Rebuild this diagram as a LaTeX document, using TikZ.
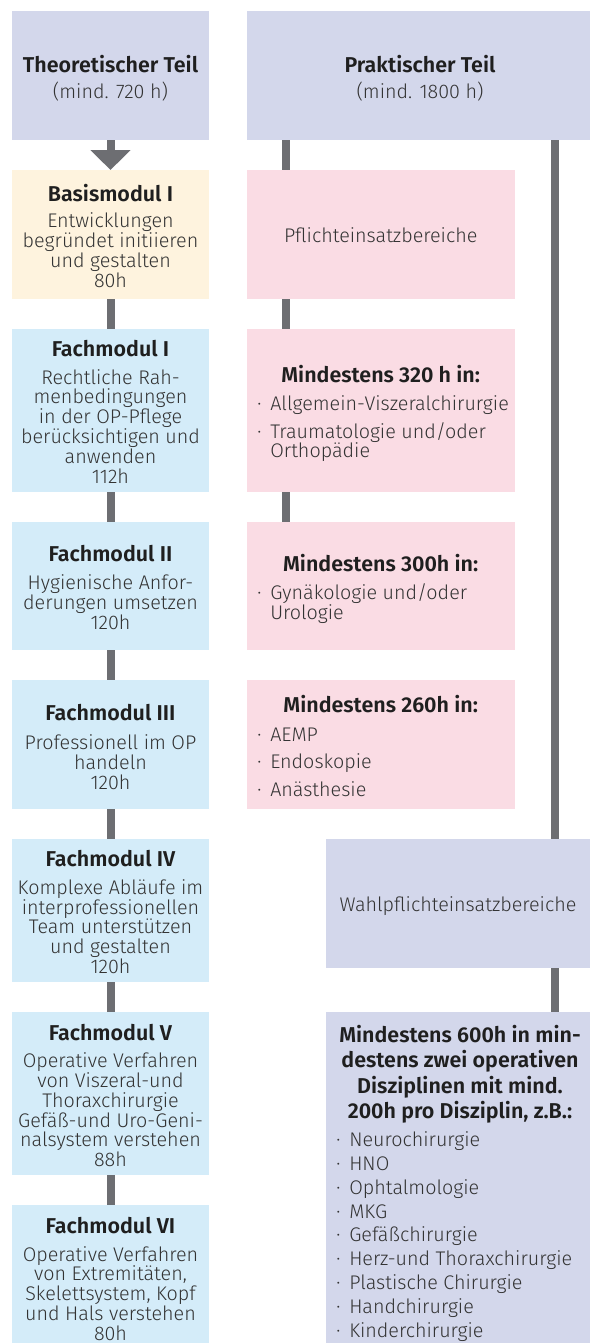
\documentclass[tikz,border=0pt]{standalone}
\usepackage{fontspec}
\IfFontExistsTF{Fira Sans Light}{\newfontfamily\bodyfam{Fira Sans Light}}{\newfontfamily\bodyfam{Fira Sans}}
\IfFontExistsTF{Fira Sans SemiBold}{\newfontfamily\headfam{Fira Sans SemiBold}}{\newfontfamily\headfamX{Fira Sans}\newcommand\headfam{\headfamX\bfseries}}
\usetikzlibrary{fit,arrows.meta}
\definecolor{hdrc}{HTML}{D3D7EB}
\definecolor{basisc}{HTML}{FEF3DE}
\definecolor{fachc}{HTML}{D4ECF9}
\definecolor{pflc}{HTML}{FADCE4}
\definecolor{lnc}{HTML}{6D6E72}
\definecolor{txtc}{HTML}{333333}
\definecolor{htxtc}{HTML}{1F1F1F}
\newcommand\hfnt{\headfam\fontsize{16.1}{18}\selectfont}
\newcommand\bfnt{\bodyfam\fontsize{14.8}{15}\selectfont}
\newdimen\PX \PX=0.75pt
\newcommand\bul{\makebox[13\PX][l]{·}}
\newcommand\ind{\hspace*{13\PX}}
\newcommand\TLines[6]{%
  \foreach \lntxt [count=\lnidx from 0] in {#6} {\node[#5] (#1-\lnidx) at (#2,{#3+#4*\lnidx}) {\lntxt};}}
\tikzset{
  box/.style={inner sep=0pt, outer sep=0pt, draw=none},
  hd/.style={anchor=base, inner sep=0pt, font=\hfnt, text=htxtc},
  bd/.style={anchor=base, inner sep=0pt, font=\bfnt, text=txtc},
  li/.style={anchor=base west, inner sep=0pt, font=\bfnt, text=txtc},
  conn/.style={draw=lnc, line width=6pt},
}
\begin{document}
\begin{tikzpicture}[x=0.75pt, y=-0.75pt]
\useasboundingbox (0,0) rectangle (590,1343);
% boxes
\node[box, fill=hdrc, fit={(12,11)(209,140)}] (theo) {};
\node[box, fill=hdrc, fit={(246.5,11)(590,140)}] (prak) {};
\node[box, fill=basisc, fit={(12,170)(209,299)}] (bm) {};
\node[box, fill=pflc, fit={(246.5,170)(515,299)}] (pf) {};
\node[box, fill=fachc, fit={(12,329)(209,492)}] (fm1) {};
\node[box, fill=pflc, fit={(246.5,329)(515,492)}] (p320) {};
\node[box, fill=fachc, fit={(12,522)(209,650)}] (fm2) {};
\node[box, fill=pflc, fit={(246.5,522)(515,650)}] (p300) {};
\node[box, fill=fachc, fit={(12,680)(209,809)}] (fm3) {};
\node[box, fill=pflc, fit={(246.5,680)(515,809)}] (p260) {};
\node[box, fill=fachc, fit={(12,839)(209,982)}] (fm4) {};
\node[box, fill=hdrc, fit={(326,839)(590,968)}] (wahl) {};
\node[box, fill=fachc, fit={(12,1012)(209,1175)}] (fm5) {};
\node[box, fill=hdrc, fit={(326,1012)(590,1343)}] (p600) {};
\node[box, fill=fachc, fit={(12,1205)(209,1343)}] (fm6) {};
% connectors
\coordinate (xin) at (286,0);
\coordinate (xout) at (555,0);
\draw[conn, -{Triangle[width=29.25pt,length=15pt]}] (theo.south) -- (bm.north);
\draw[conn] (bm.south) -- (fm1.north);
\draw[conn] (fm1.south) -- (fm2.north);
\draw[conn] (fm2.south) -- (fm3.north);
\draw[conn] (fm3.south) -- (fm4.north);
\draw[conn] (fm4.south) -- (fm5.north);
\draw[conn] (fm5.south) -- (fm6.north);
\draw[conn] (prak.south -| xin) -- (pf.north -| xin);
\draw[conn] (pf.south -| xin) -- (p320.north -| xin);
\draw[conn] (p320.south -| xin) -- (p300.north -| xin);
\draw[conn] (prak.south -| xout) -- (wahl.north -| xout);
\draw[conn] (wahl.south -| xout) -- (p600.north -| xout);
% texts
\node[hd] (theoH) at (110.5,72.3) {Theoretischer Teil};
\node[bd] (theoS) at (110.5,98.5) {(mind. 720 h)};
\node[hd] (prakH) at (420,72.3) {Praktischer Teil};
\node[bd] (prakS) at (420,98.5) {(mind. 1800 h)};
\node[hd] (bmH) at (110.5,201) {Basismodul I};
\TLines{bmT}{110.5}{227.7}{20}{bd}{Entwicklungen,begründet initiieren,und gestalten,80h}
\node[bd] (pfT) at (380.7,242.7) {Pflichteinsatzbereiche};
\node[hd] (fm1H) at (110.5,356) {Fachmodul I};
\TLines{fm1T}{110.5}{384}{19.9}{bd}{Rechtliche Rah-,menbedingungen,in der OP-Pflege,berücksichtigen und,anwenden,112h}
\node[hd] (p320H) at (380.7,382.7) {Mindestens 320 h in:};
\node[li] (p320a) at (257,410.3) {\bul Allgemein-Viszeralchirurgie};
\node[li] (p320b) at (257,438.3) {\bul Traumatologie und/oder};
\node[li] (p320c) at (257,457.8) {\ind Orthopädie};
\node[hd] (fm2H) at (110.5,561.7) {Fachmodul II};
\TLines{fm2T}{110.5}{589.3}{20}{bd}{Hygienische Anfor-,derungen umsetzen,120h}
\node[hd] (p300H) at (380.7,571) {Mindestens 300h in:};
\node[li] (p300a) at (257,599.3) {\bul Gynäkologie und/oder};
\node[li] (p300b) at (257,619) {\ind Urologie};
\node[hd] (fm3H) at (110.5,720.7) {Fachmodul III};
\TLines{fm3T}{110.5}{749.3}{19.9}{bd}{Professionell im OP,handeln,120h}
\node[hd] (p260H) at (380.7,712.7) {Mindestens 260h in:};
\TLines{p260L}{257}{741}{27.7}{li}{\bul AEMP,\bul Endoskopie,\bul Anästhesie}
\node[hd] (fm4H) at (110.5,866.7) {Fachmodul IV};
\TLines{fm4T}{110.5}{894.3}{19.8}{bd}{Komplexe Abläufe im,interprofessionellen,Team unterstützen,und gestalten,120h}
\node[bd] (wahlT) at (458,911.7) {Wahlpflichteinsatzbereiche};
\node[hd] (fm5H) at (110.5,1040) {Fachmodul V};
\TLines{fm5T}{110.5}{1067.7}{19.8}{bd}{Operative Verfahren,von Viszeral-und,Thoraxchirurgie,Gefäß-und Uro-Geni-,nalsystem verstehen,88h}
\node[hd] (fm6H) at (110.5,1233.3) {Fachmodul VI};
\TLines{fm6T}{110.5}{1261}{19.8}{bd}{Operative Verfahren,{von Extremitäten,},{Skelettsystem, Kopf},und Hals verstehen,80h}
\TLines{p600H}{460}{1042.7}{25.2}{hd}{Mindestens 600h in min-,destens zwei operativen,Disziplinen mit mind.,{200h pro Disziplin, z.B.:}}
\TLines{p600L}{336}{1146.7}{23.8}{li}{\bul Neurochirurgie,\bul HNO,\bul Ophtalmologie,\bul MKG,\bul Gefäßchirurgie,\bul Herz-und Thoraxchirurgie,\bul Plastische Chirurgie,\bul Handchirurgie,\bul Kinderchirurgie}
\end{tikzpicture}
\end{document}
